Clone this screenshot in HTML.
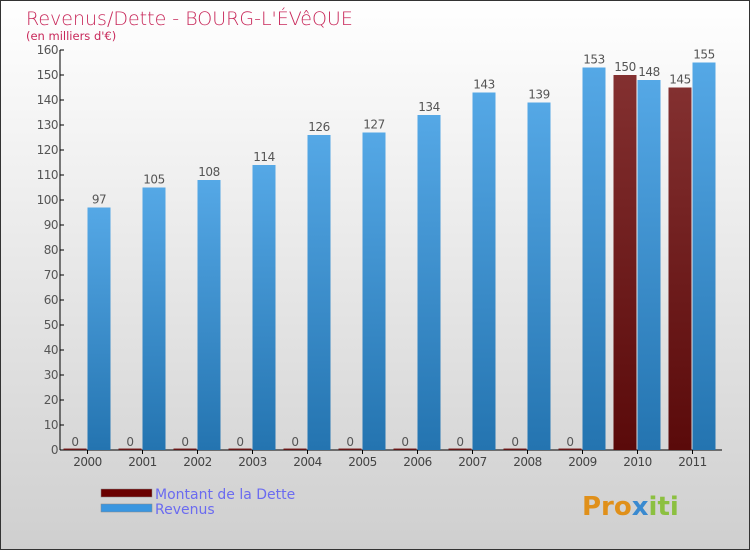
<!DOCTYPE html>
<html><head><meta charset="utf-8"><style>
body{margin:0}
#c{width:750px;height:550px;position:relative;font-family:"DejaVu Sans","Liberation Sans",sans-serif;}
</style></head><body>
<div id="c">
<svg width="750" height="550" xmlns="http://www.w3.org/2000/svg" id="svg">
<defs>
<linearGradient id="bg" x1="0" y1="0" x2="0" y2="1"><stop offset="0" stop-color="#ffffff"/><stop offset="1" stop-color="#cfcfcf"/></linearGradient>
<linearGradient id="gb" x1="0" y1="0" x2="0" y2="1"><stop offset="0" stop-color="#55a8e6"/><stop offset="1" stop-color="#2474b0"/></linearGradient>
<linearGradient id="gr" x1="0" y1="0" x2="0" y2="1"><stop offset="0" stop-color="#833030"/><stop offset="1" stop-color="#5a0a0a"/></linearGradient>
</defs>
<rect x="0.5" y="0.5" width="749" height="549" fill="url(#bg)" stroke="#333"/>
<text x="26" y="25" font-size="19" fill="#c8285a" font-family="DejaVu Sans,sans-serif" font-weight="200">Revenus/Dette - BOURG-L'ÉVêQUE</text>
<text x="26" y="40" font-size="11.5" fill="#c8285a">(en milliers d'€)</text>
<g id="axes"></g>
<g id="bars"></g>
<g>
<rect x="101" y="489" width="51" height="8" fill="#6a0000" stroke="#888" stroke-width="0.5"/>
<text x="155" y="499" font-size="14" fill="#6b6bf0">Montant de la Dette</text>
<rect x="101" y="504" width="51" height="8" fill="#3a96e0" stroke="#888" stroke-width="0.5"/>
<text x="155" y="514" font-size="14" fill="#6b6bf0">Revenus</text>
</g>
<text x="582" y="515" font-size="26" font-weight="bold" fill="#e0901a">Pro<tspan fill="#3a8ad0">x</tspan><tspan fill="#8cc040">iti</tspan></text>
</svg>
</div>
<script>
const years=["2000","2001","2002","2003","2004","2005","2006","2007","2008","2009","2010","2011"];
const dette=[0,0,0,0,0,0,0,0,0,0,150,145];
const revenus=[97,105,108,114,126,127,134,143,139,153,148,155];
const yTicks=[0,10,20,30,40,50,60,70,80,90,100,110,120,130,140,150,160];
const NS="http://www.w3.org/2000/svg";
const y0=450,yScale=2.5,xStart=60,xEnd=722,groupW=55,firstCenter=87.5,barW=23;
function y(v){return y0-v*yScale;}
function xc(i){return firstCenter+groupW*i;}
function mk(t,a,p){const e=document.createElementNS(NS,t);for(const k in a)e.setAttribute(k,a[k]);p.appendChild(e);return e;}
const ax=document.getElementById('axes'),bars=document.getElementById('bars');
const yl=mk('line',{x1:xStart,y1:y(160),x2:xStart,y2:y0,stroke:'#000'},ax);


const xl=mk('line',{x1:xStart,y1:y0,x2:xEnd,y2:y0,stroke:'#000'},ax);


yTicks.forEach(v=>{
 const t=mk('line',{x1:xStart,y1:y(v),x2:xStart+4,y2:y(v),stroke:'#000'},ax);
 
 
 const l=mk('text',{x:xStart-2,y:y(v)+4,'font-size':12,'text-anchor':'end',fill:'#555','letter-spacing':'-0.5'},ax);
 
 
 l.textContent=v;
});
years.forEach((yr,i)=>{
 const c=xc(i);
 const t=mk('line',{x1:c,y1:y0,x2:c,y2:y0+4,stroke:'#000'},ax);
 
 
 const l=mk('text',{x:c,y:y0+16,'font-size':12,'text-anchor':'middle',fill:'#444','letter-spacing':'-0.5'},ax);
 
 
 l.textContent=yr;
 const dh=Math.max(dette[i]*yScale,1.5);
 const b1=mk('rect',{x:c-barW-1,y:y0-dh,width:barW,height:dh,fill:'url(#gr)'},bars);
 
 
 const t1=mk('text',{x:c-barW/2-1,y:y(dette[i])-4,'font-size':12,'text-anchor':'middle',fill:'#555','letter-spacing':'-0.5'},bars);
 
 
 t1.textContent=dette[i];
 const b2=mk('rect',{x:c,y:y(revenus[i]),width:barW,height:revenus[i]*yScale,fill:'url(#gb)'},bars);
 
 
 const t2=mk('text',{x:c+barW/2,y:y(revenus[i])-4,'font-size':12,'text-anchor':'middle',fill:'#555','letter-spacing':'-0.5'},bars);
 
 
 t2.textContent=revenus[i];
});
</script>
</body></html>
